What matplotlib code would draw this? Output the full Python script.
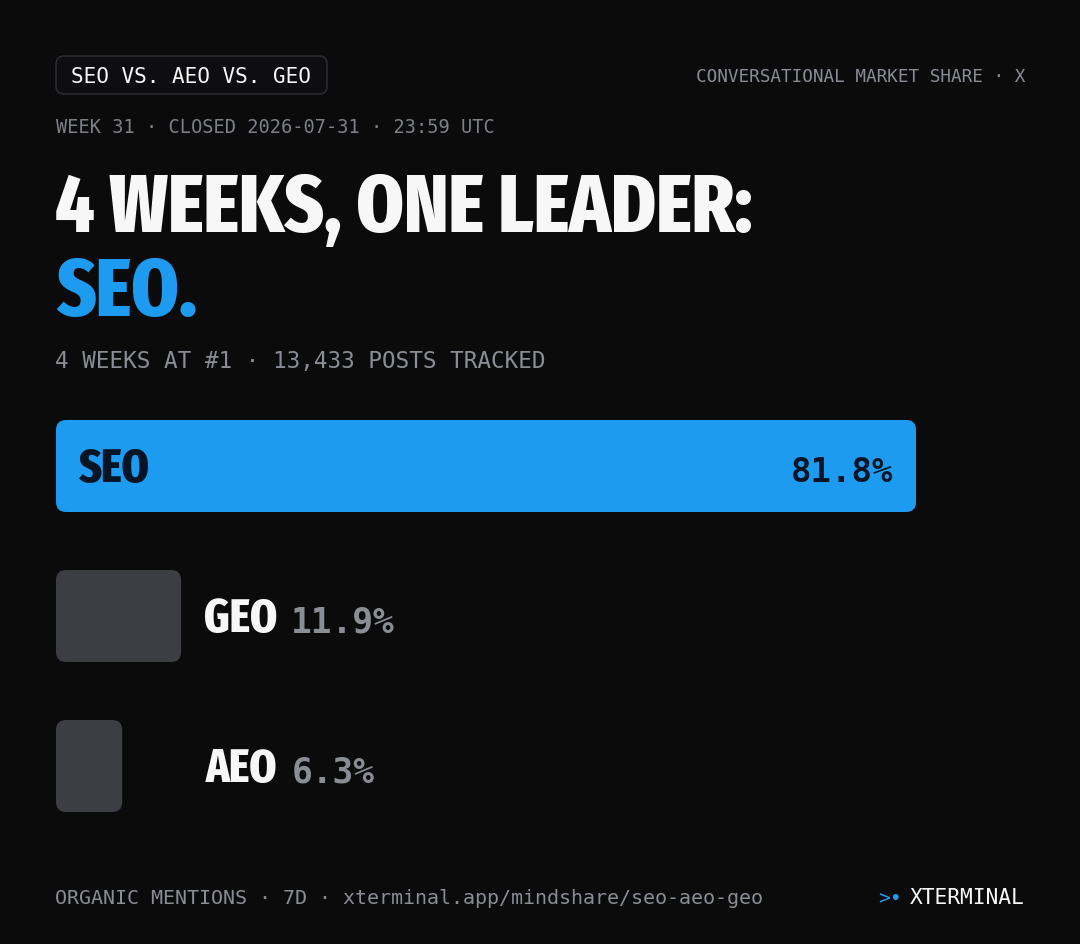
import matplotlib
matplotlib.use("Agg")
import os
import matplotlib.pyplot as plt
from matplotlib.font_manager import FontProperties, fontManager, weight_dict
from matplotlib.textpath import TextPath
from matplotlib.patches import FancyBboxPatch

# ---------------- data ----------------
categories = ["SEO", "GEO", "AEO"]
shares = [81.8, 11.9, 6.3]
value_labels = ["81.8%", "11.9%", "6.3%"]
pill_text = "SEO VS. AEO VS. GEO"
top_right_text = "CONVERSATIONAL MARKET SHARE · X"
week_text = "WEEK 31 · CLOSED 2026-07-31 · 23:59 UTC"
title_line1 = "4 WEEKS, ONE LEADER:"
title_line2 = "SEO."
subtitle_text = "4 WEEKS AT #1 · 13,433 POSTS TRACKED"
footer_text = "ORGANIC MENTIONS · 7D · xterminal.app/mindshare/seo-aeo-geo"
brand_mark = ">•"
brand_text = "XTERMINAL"

# ---------------- style ----------------
W, H, DPI = 1080, 944, 100
BG = "#0b0b0c"
BLUE = "#1d9bf0"
WHITE = "#f7f7f7"
GRAY = "#8a8d94"
GRAY2 = "#7d8087"
BAR_GRAY = "#3d3e43"
DARK = "#061525"
PILL_EDGE = "#2a2b2f"


def _wnum(w):
    if isinstance(w, (int, float)):
        return w
    return weight_dict.get(str(w).lower(), 400)


def pick_condensed():
    best, best_score = None, -1
    for f in fontManager.ttflist:
        fn = os.path.basename(f.fname).lower()
        nm = f.name.lower()
        if "italic" in fn or "oblique" in fn or f.style != "normal":
            continue
        if "mono" in nm or "serif" in nm and "sans" not in nm:
            continue
        tag = fn + " " + nm + " " + str(f.stretch).lower()
        if "extracondensed" in tag.replace("-", "").replace(" ", "") or "extra-condensed" in tag:
            sc = 30
        elif "semicondensed" in tag.replace("-", "").replace(" ", ""):
            sc = 10
        elif "condensed" in tag or "narrow" in tag or "cond" in fn:
            sc = 20
        else:
            continue
        w = _wnum(f.weight)
        if w >= 850:
            sc += 5
        elif w >= 750:
            sc += 6
        elif w >= 650:
            sc += 4
        else:
            sc -= 10
        if sc > best_score:
            best, best_score = f, sc
    if best is not None:
        return FontProperties(fname=best.fname)
    return FontProperties(family=["Liberation Sans", "DejaVu Sans"], weight="bold")


COND = pick_condensed()
MONO = FontProperties(family=["DejaVu Sans Mono"], weight="normal")
MONO_B = FontProperties(family=["DejaVu Sans Mono"], weight="bold")

fig = plt.figure(figsize=(W / DPI, H / DPI), dpi=DPI, facecolor=BG)

# bar axes (drawn underneath)
bar_left, bar_right = 56, 916
bar_top, bar_bottom = 420, 812
pitch_px = 150.0
bar_h_px = 92.0
n = len(categories)
bh = bar_h_px / pitch_px
bax = fig.add_axes([bar_left / W, 1 - bar_bottom / H, (bar_right - bar_left) / W, (bar_bottom - bar_top) / H])
bax.set_zorder(0)
bax.axis("off")
bax.patch.set_alpha(0)

# pixel overlay axes for text (on top)
ax = fig.add_axes([0, 0, 1, 1])
ax.set_zorder(2)
ax.set_xlim(0, W)
ax.set_ylim(H, 0)
ax.axis("off")
ax.patch.set_alpha(0)

_cap_cache = {}


def metrics(s, fp):
    tp = TextPath((0, 0), s, size=1, prop=fp)
    ext = tp.get_extents()
    key = (str(fp.get_file()), str(fp.get_family()), str(fp.get_weight()))
    if key not in _cap_cache:
        _cap_cache[key] = TextPath((0, 0), "H", size=1, prop=fp).get_extents().height
    return ext.x0, ext.width, _cap_cache[key]


def fit_text(s, fp, left, right, baseline, cap, color, ha="left", wfac=1.0, hfac=1.0, size_px=None):
    x0, w, capu = metrics(s, fp)
    if size_px is None:
        size_by_w = (right - left) * wfac / w
        size_by_h = cap * hfac / capu
        size_px = min(size_by_w, size_by_h)
    if ha == "left":
        x = left - x0 * size_px
    else:
        x = right - (x0 + w) * size_px
    ax.text(x, baseline, s, fontproperties=fp, fontsize=size_px * 72 / DPI,
            color=color, ha="left", va="baseline", zorder=5)
    return size_px

# ---------------- header ----------------
pill = FancyBboxPatch((56, 56), 271, 38, boxstyle="round,pad=0,rounding_size=8",
                      facecolor="#0e0e10", edgecolor=PILL_EDGE, linewidth=1.2)
ax.add_patch(pill)
fit_text(pill_text, MONO, 72, 315, 83, 13.7, WHITE, wfac=1.0, hfac=1.12)
fit_text(top_right_text, MONO, 697, 1024, 82, 11.6, GRAY, ha="right", hfac=1.15)
fit_text(week_text, MONO, 56, 492, 133, 12.7, GRAY2, hfac=1.15)

# ---------------- title ----------------
tsize = fit_text(title_line1, COND, 56, 700, 232, 70, WHITE, wfac=1.08)
fit_text(title_line2, COND, 56, 180, 316, 70, BLUE, size_px=tsize)
fit_text(subtitle_text, MONO, 56, 545, 368, 15, GRAY, hfac=1.15)

# ---------------- bars ----------------
xmax = max(shares)
bax.set_xlim(0, xmax)
bax.set_ylim(n - 1 + bh / 2, -bh / 2)

xunit_per_px = xmax / (bar_right - bar_left)
yunit_per_px = 1.0 / pitch_px
radius_px = 10
ypos = list(range(n))
for i, (cat, v) in enumerate(zip(categories, shares)):
    color = BLUE if i == 0 else BAR_GRAY
    p = FancyBboxPatch((0, ypos[i] - bh / 2), v, bh,
                       boxstyle=f"round,pad=0,rounding_size={radius_px * xunit_per_px}",
                       mutation_aspect=yunit_per_px / xunit_per_px,
                       facecolor=color, edgecolor="none", transform=bax.transData)
    bax.add_patch(p)


def to_px(axx, x, y):
    dx, dy = axx.transData.transform((x, y))
    return dx, H - dy


label_col = max(to_px(bax, s, 0)[0] for s in shares[1:]) + 24
for i, (cat, v, vl) in enumerate(zip(categories, shares, value_labels)):
    x_end, yc = to_px(bax, v, ypos[i])
    base = yc + 16
    if i == 0:
        fit_text(cat, COND, bar_left + 22, bar_left + 83, base, 40, DARK, wfac=1.15)
        fit_text(vl, MONO_B, x_end - 123, x_end - 23, base, 24, DARK, ha="right", hfac=1.05)
    else:
        fit_text(cat, COND, label_col, label_col + 62, base, 40, WHITE, wfac=1.15)
        vw = 20.2 * len(vl)
        fit_text(vl, MONO_B, label_col + 89, label_col + 89 + vw, base, 24, GRAY, hfac=1.05)

# ---------------- footer ----------------
fit_text(footer_text, MONO, 56, 764, 904, 14, GRAY, hfac=1.15)
fit_text(brand_text, MONO, 908, 1024, 904, 13.5, WHITE, ha="right", hfac=1.15)
fit_text(brand_mark, MONO, 879, 900, 904, 11, BLUE, hfac=1.3)

fig.savefig("out.png", dpi=DPI, facecolor=BG)
